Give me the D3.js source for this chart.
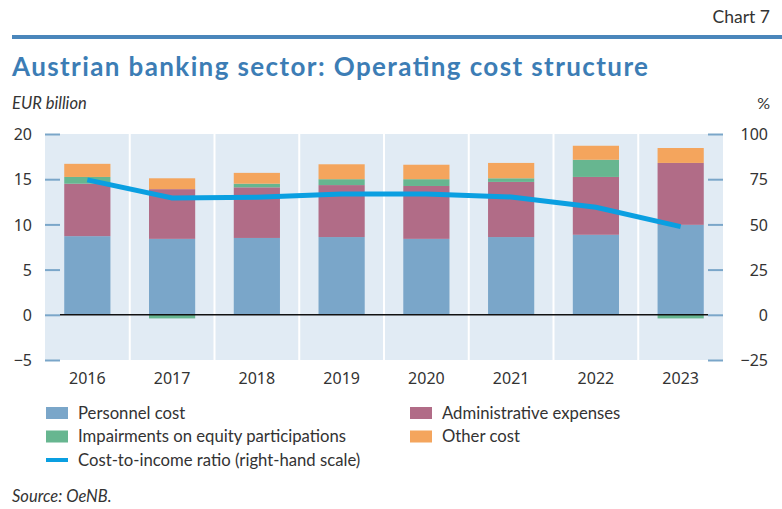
<!DOCTYPE html>
<html>
<head>
<meta charset="utf-8">
<script src="https://cdn.jsdelivr.net/npm/d3@7"></script>
<style>
  body { margin: 0; background: #fff; }
  text { font-family: Lato, "Open Sans", sans-serif; fill: #333; }
  .tick text { font-family: "Noto Sans", sans-serif; font-size: 16px; fill: #333; }
</style>
</head>
<body>
<svg id="chart"></svg>
<script>
var years = ["2016", "2017", "2018", "2019", "2020", "2021", "2022", "2023"];
var personnel   = [8.7, 8.4, 8.5, 8.6, 8.4, 8.6, 8.85, 9.95];
var admin       = [5.8, 5.5, 5.6, 5.75, 5.85, 6.1, 6.4, 6.85];
var impairments = [0.75, -0.4, 0.4, 0.65, 0.75, 0.4, 1.9, -0.4];
var other       = [1.45, 1.2, 1.2, 1.65, 1.6, 1.7, 1.55, 1.65];
var costIncome  = [74.6, 64.6, 65.0, 66.8, 66.8, 65.2, 59.5, 48.8];

var leftTicks = [-5, 0, 5, 10, 15, 20];
var rightTicks = [-25, 0, 25, 50, 75, 100];

var series = [
  { name: "Personnel cost", values: personnel, color: "#7aa6c9" },
  { name: "Administrative expenses", values: admin, color: "#b16c87" },
  { name: "Impairments on equity participations", values: impairments, color: "#67b690" },
  { name: "Other cost", values: other, color: "#f4a55d" }
];

var W = 782, H = 509;
var margin = { top: 134, right: 59, bottom: 149, left: 45 },
    width = W - margin.left - margin.right,
    height = H - margin.top - margin.bottom;

var svg = d3.select("#chart")
    .attr("width", W)
    .attr("height", H);

// header
svg.append("text")
    .attr("x", 770).attr("y", 23)
    .attr("text-anchor", "end")
    .style("font-size", "17.5px")
    .text("Chart 7");

svg.append("rect")
    .attr("x", 12).attr("y", 35)
    .attr("width", W - 12).attr("height", 4)
    .attr("fill", "#4a86bb");

svg.append("text")
    .attr("x", 12).attr("y", 76)
    .attr("textLength", 636)
    .attr("lengthAdjust", "spacing")
    .style("font-size", "26px")
    .style("font-weight", "bold")
    .style("fill", "#3c7db5")
    .text("Austrian banking sector: Operating cost structure");

svg.append("text")
    .attr("x", 12).attr("y", 109)
    .style("font-size", "16.5px")
    .style("font-style", "italic")
    .text("EUR billion");

svg.append("text")
    .attr("x", 770).attr("y", 109)
    .attr("text-anchor", "end")
    .style("font-size", "16px")
    .text("%");

var g = svg.append("g")
    .attr("transform", "translate(" + margin.left + "," + margin.top + ")");

var x = d3.scaleBand()
    .domain(years)
    .range([0, width])
    .paddingInner(0.455)
    .paddingOuter(0.227);

var band = d3.scaleBand().domain(years).range([0, width]);

var y = d3.scaleLinear().domain([-5, 20]).range([height, 0]);
var y2 = d3.scaleLinear().domain([-25, 100]).range([height, 0]);

// background
g.append("rect")
    .attr("width", width)
    .attr("height", height)
    .attr("fill", "#e1ebf4");

// vertical separators
g.selectAll(".sep")
    .data(years.slice(1))
    .enter().append("line")
    .attr("x1", function(d) { return band(d); })
    .attr("x2", function(d) { return band(d); })
    .attr("y1", 0).attr("y2", height)
    .attr("stroke", "#fff")
    .attr("stroke-width", 2);

// stacked bars, positives and negatives stacked separately
var stacks = years.map(function() { return { pos: 0, neg: 0 }; });
series.forEach(function(s) {
    var segs = s.values.map(function(v, i) {
        var st = stacks[i], y0, y1;
        if (v >= 0) { y0 = st.pos; y1 = st.pos + v; st.pos = y1; }
        else { y0 = st.neg + v; y1 = st.neg; st.neg = y0; }
        return { year: years[i], y0: y0, y1: y1 };
    });
    g.append("g").selectAll("rect")
        .data(segs)
        .enter().append("rect")
        .attr("x", function(d) { return x(d.year); })
        .attr("width", x.bandwidth())
        .attr("y", function(d) { return y(d.y1); })
        .attr("height", function(d) { return y(d.y0) - y(d.y1); })
        .attr("fill", s.color);
});

// axes
var leftAxis = d3.axisRight(y).tickValues(leftTicks).tickSize(15).tickFormat(d3.format("d"));
var la = g.append("g").call(leftAxis);
la.select(".domain").remove();
la.selectAll(".tick line").attr("stroke", "#7aa6c9").attr("stroke-width", 2);
la.selectAll(".tick text").attr("x", -13).attr("text-anchor", "end").attr("dy", "0.35em");

var rightAxis = d3.axisLeft(y2).tickValues(rightTicks).tickSize(15).tickFormat(d3.format("d"));
var ra = g.append("g").attr("transform", "translate(" + width + ",0)").call(rightAxis);
ra.select(".domain").remove();
ra.selectAll(".tick line").attr("stroke", "#7aa6c9").attr("stroke-width", 2);
ra.selectAll(".tick text").attr("x", 45).attr("text-anchor", "end").attr("dy", "0.35em");

// minus sign formatting
g.selectAll(".tick text").text(function(d) { return d < 0 ? "\u2212" + Math.abs(d) : d; });

// zero line
g.append("line")
    .attr("x1", 15).attr("x2", width - 15)
    .attr("y1", y(0)).attr("y2", y(0))
    .attr("stroke", "#111")
    .attr("stroke-width", 1.5);

// cost-to-income line
var line = d3.line()
    .x(function(d, i) { return x(years[i]) + x.bandwidth() / 2; })
    .y(function(d) { return y2(d); });

g.append("path")
    .datum(costIncome)
    .attr("d", line)
    .attr("fill", "none")
    .attr("stroke", "#0a9fe1")
    .attr("stroke-width", 5);

// year labels
var xa = g.append("g")
    .attr("transform", "translate(0," + height + ")")
    .call(d3.axisBottom(x).tickSize(0).tickPadding(13));
xa.select(".domain").remove();

// legend
var legendItems = [
    { name: series[0].name, color: series[0].color, col: 0, row: 0, type: "rect" },
    { name: series[1].name, color: series[1].color, col: 1, row: 0, type: "rect" },
    { name: series[2].name, color: series[2].color, col: 0, row: 1, type: "rect" },
    { name: series[3].name, color: series[3].color, col: 1, row: 1, type: "rect" },
    { name: "Cost-to-income ratio (right-hand scale)", color: "#0a9fe1", col: 0, row: 2, type: "line" }
];

var lg = svg.append("g").attr("transform", "translate(46,413)");
var items = lg.selectAll(".item")
    .data(legendItems)
    .enter().append("g")
    .attr("transform", function(d) { return "translate(" + (d.col * 364) + "," + (d.row * 23.5) + ")"; });

items.append("rect")
    .attr("x", 0)
    .attr("y", function(d) { return d.type === "rect" ? -6 : -2; })
    .attr("width", 22)
    .attr("height", function(d) { return d.type === "rect" ? 12 : 4; })
    .attr("fill", function(d) { return d.color; });

items.append("text")
    .attr("x", 32)
    .attr("dy", "0.35em")
    .style("font-size", "16.7px")
    .text(function(d) { return d.name; });

svg.append("text")
    .attr("x", 12).attr("y", 502)
    .style("font-size", "16.5px")
    .style("font-style", "italic")
    .text("Source: OeNB.");
</script>
</body>
</html>
